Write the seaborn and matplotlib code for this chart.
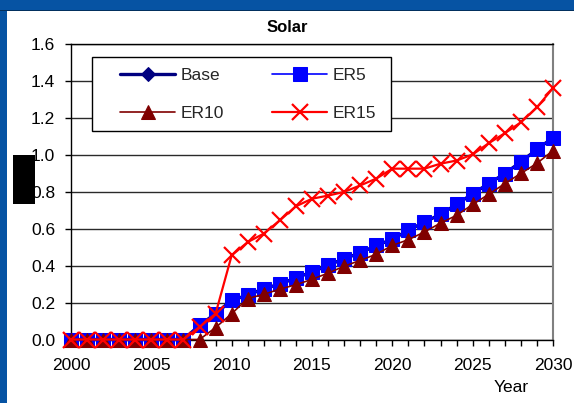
import numpy as np
import pandas as pd
import matplotlib
matplotlib.use("Agg")
import matplotlib.pyplot as plt
from matplotlib.patches import Rectangle
from matplotlib.ticker import MultipleLocator, FormatStrFormatter
import seaborn as sns

# ---- data ----
years = list(range(2000, 2031))
er5 = [0, 0, 0, 0, 0, 0, 0, 0, 0.077, 0.14, 0.213, 0.24, 0.276, 0.30, 0.334,
       0.366, 0.402, 0.438, 0.469, 0.51, 0.543, 0.592, 0.637, 0.678, 0.732,
       0.79, 0.845, 0.899, 0.963, 1.03, 1.094]
base = list(er5)
er10 = [0, 0, 0, 0, 0, 0, 0, 0, 0, 0.065, 0.14, 0.222, 0.245, 0.273, 0.297,
        0.326, 0.36, 0.397, 0.429, 0.462, 0.51, 0.541, 0.583, 0.631, 0.673,
        0.732, 0.787, 0.845, 0.90, 0.955, 1.024]
er15 = [0, 0, 0, 0, 0, 0, 0, 0, 0.068, 0.14, 0.456, 0.528, 0.574, 0.646, 0.722,
        0.763, 0.78, 0.80, 0.835, 0.872, 0.926, 0.926, 0.926, 0.953, 0.97,
        1.003, 1.064, 1.118, 1.177, 1.258, 1.363]
series_names = ["Base", "ER5", "ER10", "ER15"]
y_ticks = [0.0, 0.2, 0.4, 0.6, 0.8, 1.0, 1.2, 1.4, 1.6]
x_ticks = [2000, 2005, 2010, 2015, 2020, 2025, 2030]

df = pd.DataFrame({"Year": years, "Base": base, "ER5": er5,
                   "ER10": er10, "ER15": er15})

sns.set_theme(style="white")
plt.rcParams["font.family"] = ["Liberation Sans", "DejaVu Sans"]

W, H = 574, 403
fig = plt.figure(figsize=(W / 100, H / 100), dpi=100)
fig.patch.set_facecolor("#0653a3")

def fx(px):
    return px / W

def fy(py):
    return 1 - py / H

# white slide panel
fig.patches.append(Rectangle((fx(7), -0.05), 1.0, fy(11) + 0.05, transform=fig.transFigure,
                             facecolor="white", edgecolor="none", zorder=-5))
fig.patches.append(Rectangle((0, fy(11)), 1.05, 1 / H * 1.2, transform=fig.transFigure,
                             facecolor="#02305e", edgecolor="none", zorder=-4))

ax = fig.add_axes([fx(71), fy(339.5), fx(553) - fx(71), fy(44.3) - fy(339.5)])
ax.set_facecolor("white")

styles = {
    "Base": dict(color="#000080", marker="D", markersize=7, linewidth=2.4),
    "ER5": dict(color="#0000ff", marker="s", markersize=9.5, linewidth=1.2),
    "ER10": dict(color="#800000", marker="^", markersize=9.5, linewidth=1.2),
    "ER15": dict(color="#ff0000", marker="x", markersize=11.5, linewidth=1.6,
                 markeredgewidth=1.6),
}

for name in series_names:
    st = dict(styles[name])
    sns.lineplot(data=df, x="Year", y=name, ax=ax, label=name, clip_on=False,
                 markeredgecolor=st["color"], zorder=3, legend=False, **st)

ax.set_xlim(2000, 2030)
ax.set_ylim(0, 1.6)
ax.set_xticks(x_ticks)
ax.xaxis.set_minor_locator(MultipleLocator(1))
ax.set_yticks(y_ticks)
ax.yaxis.set_major_formatter(FormatStrFormatter("%.1f"))
ax.set_xlabel("")
ax.set_ylabel("")

ax.grid(axis="y", color="#2a2a2a", linewidth=1.0)
ax.grid(axis="x", visible=False)
ax.set_axisbelow(True)

for side in ["left", "bottom", "top"]:
    ax.spines[side].set_color("black")
    ax.spines[side].set_linewidth(1.0)
ax.spines["right"].set_color("#808080")
ax.spines["right"].set_linewidth(1.5)

ax.tick_params(axis="x", which="both", direction="out", length=4.5, width=1,
               color="black", bottom=True, labelsize=12.5, pad=9, labelcolor="black")
ax.tick_params(axis="y", which="major", direction="out", length=4.5, width=1,
               color="black", left=True, labelsize=12.5, pad=7, labelcolor="black")

# legend with a plain black frame; entries fill row by row
fig.patches.append(Rectangle((fx(91.7), fy(131)), fx(391) - fx(91.7), fy(56.7) - fy(131),
                             transform=fig.transFigure, facecolor="white",
                             edgecolor="black", linewidth=1.0, zorder=4))
handles, labels = ax.get_legend_handles_labels()
order = ["Base", "ER10", "ER5", "ER15"]
hmap = dict(zip(labels, handles))
leg = fig.legend([hmap[k] for k in order], order, ncol=2, loc="upper left",
                 bbox_to_anchor=(fx(106), fy(54)), bbox_transform=fig.transFigure,
                 frameon=False, fontsize=12.5, handlelength=3.2, handletextpad=0.3,
                 columnspacing=2.75, labelspacing=1.3, borderpad=0.3)
leg.set_zorder(6)

fig.text(0.5, fy(27), "Solar", ha="center", va="center", fontsize=12,
         fontweight="bold", color="black")
fig.text(fx(511), fy(388), "Year", ha="center", va="center", fontsize=12.5,
         color="black")

# label block at the left of the value axis
fig.patches.append(Rectangle((fx(12.7), fy(204)), fx(35) - fx(12.7), fy(155) - fy(204),
                             transform=fig.transFigure, facecolor="black",
                             edgecolor="none", zorder=7))

fig.savefig("out.png", dpi=100, facecolor=fig.get_facecolor())
